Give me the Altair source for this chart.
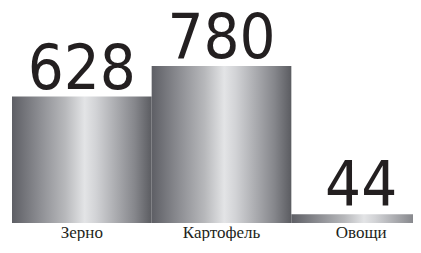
import altair as alt
import pandas as pd

categories = ["Зерно", "Картофель", "Овощи"]
values = [628, 780, 44]

df = pd.DataFrame({"cat": categories, "val": values})

grad = alt.Gradient(
    gradient="linear",
    stops=[
        alt.GradientStop(color="#5e5f65", offset=0.0),
        alt.GradientStop(color="#8d8e93", offset=0.2),
        alt.GradientStop(color="#b7b8bb", offset=0.38),
        alt.GradientStop(color="#e3e4e6", offset=0.52),
        alt.GradientStop(color="#d2d3d6", offset=0.6),
        alt.GradientStop(color="#a9aaae", offset=0.75),
        alt.GradientStop(color="#85868b", offset=0.88),
        alt.GradientStop(color="#5b5c61", offset=1.0),
    ],
    x1=0, x2=1, y1=0, y2=0,
)

x = alt.X(
    "cat:N",
    sort=categories,
    title=None,
    scale=alt.Scale(paddingInner=0, paddingOuter=0),
    axis=alt.Axis(
        domain=False, ticks=False, labelAngle=0, labelPadding=1,
        labelFont="Liberation Serif", labelFontSize=17, labelColor="#231f20",
        grid=False,
    ),
)
y = alt.Y(
    "val:Q",
    title=None,
    scale=alt.Scale(domain=[0, 1058], nice=False, zero=True),
    axis=None,
)

bars = alt.Chart(df).mark_bar(color=grad, clip=False).encode(x=x, y=y)
text = alt.Chart(df).mark_text(
    font="DejaVu Sans Condensed, Roboto", fontSize=63, color="#231f20",
    baseline="alphabetic", dy=-8, clip=False,
).encode(x=x, y=y, text="val:Q")

chart = (
    alt.layer(bars, text)
    .properties(
        width=419, height=213,
        padding={"left": 4, "top": 2, "right": -18, "bottom": 18},
        autosize=alt.AutoSizeParams(type="none"),
    )
    .configure_view(stroke=None)
)

chart.save("out.html", embed_options={"renderer": "svg", "actions": False})
